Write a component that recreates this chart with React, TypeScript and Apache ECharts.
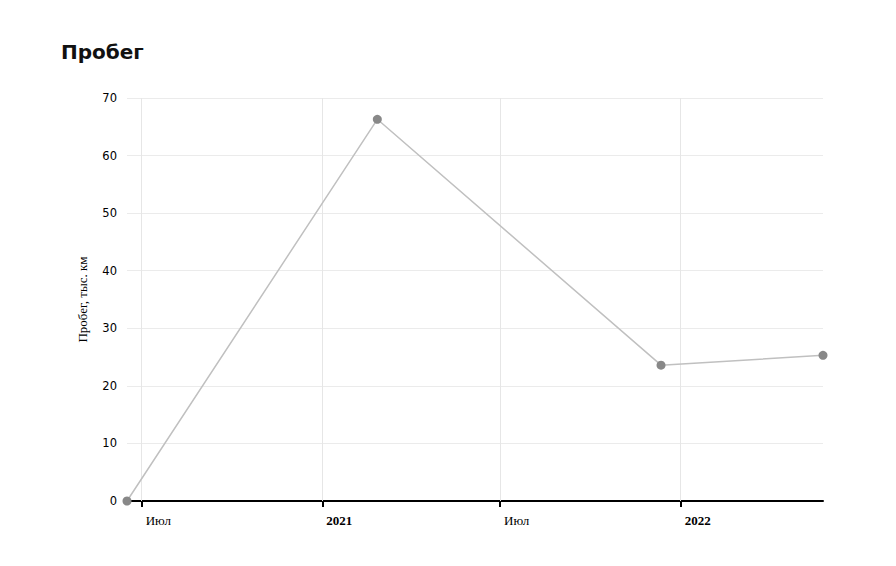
import React, { useEffect, useRef } from "react";
import * as echarts from "echarts";

const dates = ["2020-06-16", "2021-02-26", "2021-12-12", "2022-05-26"];
const mileage = [0, 66.3, 23.6, 25.3];
const tickDates = ["2020-07-01", "2021-01-01", "2021-07-01", "2022-01-01"];
const tickLabels = ["Июл", "2021", "Июл", "2022"];
const yTicks = [0, 10, 20, 30, 40, 50, 60, 70];

export default function App() {
  const ref = useRef<HTMLDivElement>(null);
  useEffect(() => {
    if (!ref.current) return;
    const chart = echarts.init(ref.current, undefined, { renderer: "svg" });
    const ts = (d: string) => new Date(d + "T00:00:00Z").getTime();
    const tickTs = tickDates.map(ts);
    const labelFor = (v: number) => {
      let best = 0;
      let bd = Infinity;
      tickTs.forEach((t, i) => {
        const d = Math.abs(t - v);
        if (d < bd) { bd = d; best = i; }
      });
      return bd < 86400000 ? tickLabels[best] : "";
    };
    chart.setOption({
      animation: false,
      title: {
        text: "Пробег",
        left: 48,
        top: 29,
        textStyle: { fontFamily: "DejaVu Sans", fontWeight: "bold", fontSize: 20, color: "#111" },
      },
      grid: { left: 119, right: 65, top: 90, bottom: 57 },
      xAxis: {
        type: "value",
        min: ts(dates[0]),
        max: ts(dates[dates.length - 1]),
        axisLine: { show: true, lineStyle: { color: "#000", width: 2 } },
        axisTick: { show: true, customValues: tickTs, length: 6, lineStyle: { color: "#000", width: 2 } },
        splitLine: { show: false },
        axisLabel: {
          customValues: tickTs,
          align: "left",
          padding: [0, 0, 0, 4],
          margin: 13,
          fontFamily: "Liberation Serif",
          fontSize: 13,
          color: "#000",
          formatter: (v: number) => {
            const s = labelFor(v);
            return /^\d/.test(s) ? "{b|" + s + "}" : s;
          },
          rich: { b: { fontWeight: "bold", fontFamily: "Liberation Serif", fontSize: 13, color: "#000" } },
        },
      },
      yAxis: {
        type: "value",
        min: 0,
        max: yTicks[yTicks.length - 1],
        interval: 10,
        name: "Пробег, тыс. км",
        nameLocation: "middle",
        nameGap: 38,
        nameTextStyle: { fontFamily: "Liberation Serif", fontSize: 13, color: "#000" },
        axisLine: { show: false },
        axisTick: { show: false },
        axisLabel: { margin: 10, fontFamily: "DejaVu Sans", fontSize: 11.5, color: "#000" },
        splitLine: { show: true, lineStyle: { color: "#ebebeb", width: 1 } },
      },
      series: [
        {
          type: "line",
          data: dates.map((d, i) => [ts(d), mileage[i]]),
          symbol: "circle",
          symbolSize: 9,
          itemStyle: { color: "#888" },
          lineStyle: { color: "#c0c0c0", width: 1.5 },
          z: 3,
          markLine: {
            silent: true,
            symbol: "none",
            label: { show: false },
            lineStyle: { color: "#e6e6e6", width: 1, type: "solid" },
            data: tickTs.map((t) => ({ xAxis: t })),
            z: 1,
          },
        },
      ],
    });
    return () => chart.dispose();
  }, []);
  return <div ref={ref} style={{ width: 880, height: 550 }} />;
}
